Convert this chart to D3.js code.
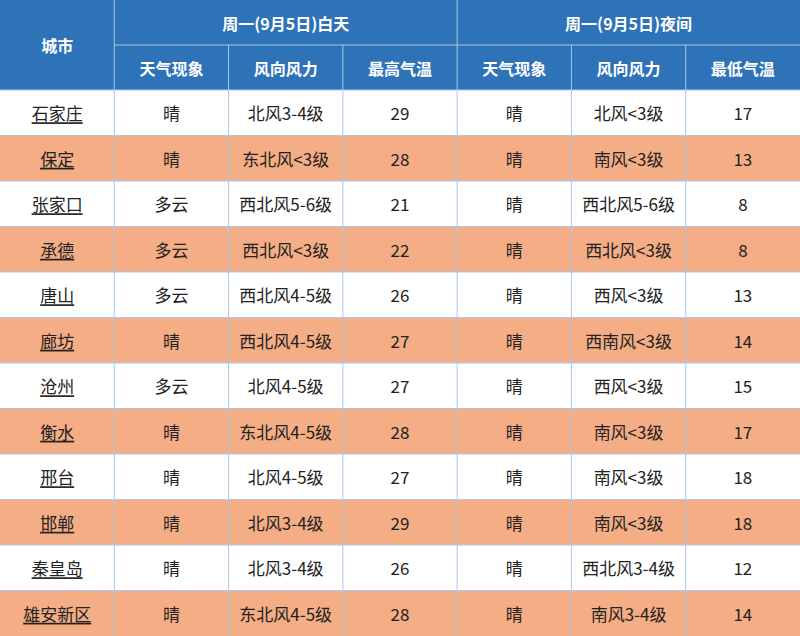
<!DOCTYPE html>
<html><head><meta charset="utf-8">
<script src="https://cdn.jsdelivr.net/npm/d3@7"></script>
<style>body{margin:0}svg{display:block}</style></head>
<body><svg id="c" width="800" height="636"></svg>
<script>
const groupHeaders = ["周一(9月5日)白天", "周一(9月5日)夜间"];
const subHeaders = ["天气现象", "风向风力", "最高气温", "天气现象", "风向风力", "最低气温"];
const cities = ["石家庄","保定","张家口","承德","唐山","廊坊","沧州","衡水","邢台","邯郸","秦皇岛","雄安新区"];
const dayWeather = ["晴","晴","多云","多云","多云","晴","多云","晴","晴","晴","晴","晴"];
const dayWind = ["北风3-4级","东北风<3级","西北风5-6级","西北风<3级","西北风4-5级","西北风4-5级","北风4-5级","东北风4-5级","北风4-5级","北风3-4级","北风3-4级","东北风4-5级"];
const highTemp = [29,28,21,22,26,27,27,28,27,29,26,28];
const nightWeather = ["晴","晴","晴","晴","晴","晴","晴","晴","晴","晴","晴","晴"];
const nightWind = ["北风<3级","南风<3级","西北风5-6级","西北风<3级","西风<3级","西南风<3级","西风<3级","南风<3级","南风<3级","南风<3级","西北风3-4级","南风3-4级"];
const lowTemp = [17,13,8,8,13,14,15,17,18,18,12,14];

const W=800,H=636,hdr=45,hdr2=90;
const svg=d3.select("#c");
const font="'Noto Sans CJK SC','Noto Sans',sans-serif";
const x=d3.scaleLinear().domain([0,7]).range([0,W]);
const y=d3.scaleBand().domain(d3.range(cities.length)).range([hdr2,H]);
const blue="#2e72b8",line="#a9c7e8";
svg.append("rect").attr("x",0).attr("y",0).attr("width",W).attr("height",hdr2).attr("fill",blue);
const rows=cities.map((c,i)=>[c,dayWeather[i],dayWind[i],highTemp[i],nightWeather[i],nightWind[i],lowTemp[i]]);
svg.selectAll("rect.row").data(rows).join("rect").attr("x",0).attr("y",(d,i)=>y(i)).attr("width",W).attr("height",y.bandwidth())
 .attr("fill",(d,i)=>i%2?"#f4ad84":"#fff");
// header text
const ht=(t,cx,cy,s)=>svg.append("text").attr("x",cx).attr("y",cy).attr("text-anchor","middle").attr("dominant-baseline","central")
 .attr("fill","#fff").attr("font-weight","bold").attr("font-size",s).attr("font-family",font).text(t);
ht("城市",x(0.5),hdr2/2,16);
groupHeaders.forEach((g,i)=>ht(g,x(1+i*3+1.5),hdr/2,16));
subHeaders.forEach((s,i)=>ht(s,x(1.5+i),hdr+hdr/2,16));
// body text
rows.forEach((r,i)=>{r.forEach((v,j)=>{
 svg.append("text").attr("x",x(j+0.5)).attr("y",y(i)+y.bandwidth()/2).attr("text-anchor","middle").attr("dominant-baseline","central")
  .attr("fill","#222").attr("font-size",17).attr("font-family",font).attr("text-decoration",j===0?"underline":null).text(v);
});});
// lines
const L=(x1,y1,x2,y2)=>svg.append("line").attr("x1",x1).attr("y1",y1).attr("x2",x2).attr("y2",y2).attr("stroke",line).attr("stroke-width",1);
L(x(1),hdr,W,hdr);
L(x(1),0,x(1),H);L(x(4),0,x(4),H);
[2,3,5,6].forEach(k=>L(x(k),hdr,x(k),H));
d3.range(1,cities.length).forEach(i=>L(0,y(i),W,y(i)));
L(0,hdr2,W,hdr2);
</script></body></html>
